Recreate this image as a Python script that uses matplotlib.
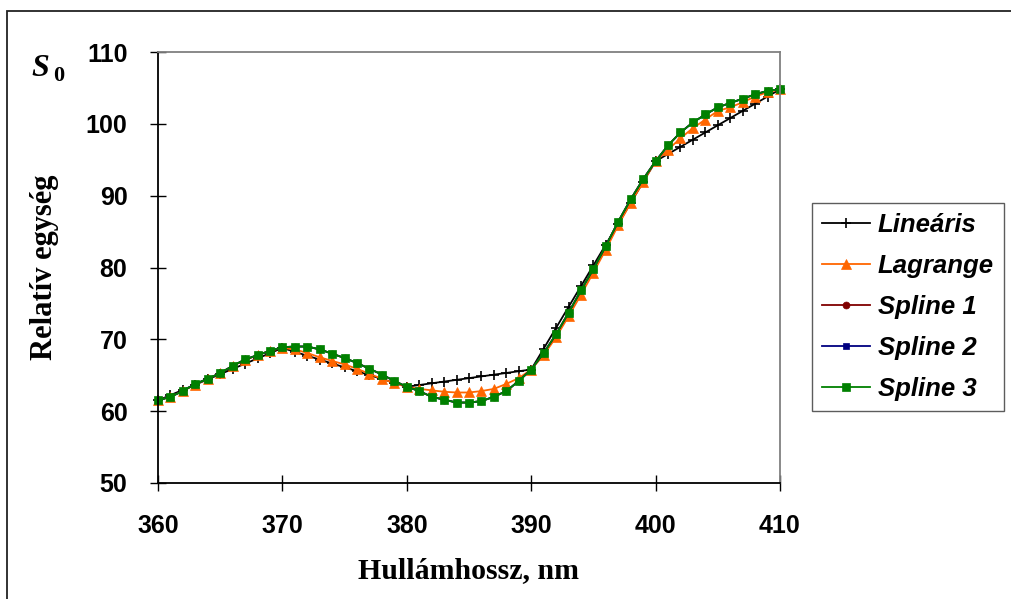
import matplotlib
matplotlib.use("Agg")
import matplotlib.pyplot as plt
from matplotlib.patches import Rectangle

# Wavelengths (nm)
wavelength = list(range(360, 411))

# Linear interpolation
linearis = [61.5, 62.23, 62.96, 63.69, 64.42, 65.15, 65.88, 66.61, 67.34, 68.07,
            68.8, 68.26, 67.72, 67.18, 66.64, 66.1, 65.56, 65.02, 64.48, 63.94,
            63.4, 63.64, 63.88, 64.12, 64.36, 64.6, 64.84, 65.08, 65.32, 65.56,
            65.8, 68.7, 71.6, 74.5, 77.4, 80.3, 83.2, 86.1, 89.0, 91.9,
            94.8, 95.8, 96.8, 97.8, 98.8, 99.8, 100.8, 101.8, 102.8, 103.8,
            104.8]

# Lagrange interpolation
lagrange = [61.5, 62.0, 62.8, 63.7, 64.5, 65.3, 66.3, 67.1, 67.8, 68.4,
            68.8, 68.6, 68.1, 67.5, 67.0, 66.5, 65.9, 65.2, 64.5, 63.9,
            63.4, 63.1, 62.9, 62.7, 62.6, 62.6, 62.8, 63.1, 63.8, 64.6,
            65.8, 67.8, 70.3, 73.2, 76.2, 79.3, 82.5, 85.9, 89.0, 91.9,
            94.8, 96.4, 98.0, 99.4, 100.6, 101.8, 102.3, 103.0, 103.8, 104.4,
            104.8]

# Spline interpolations
spline_1 = [61.5, 62.0, 62.8, 63.8, 64.5, 65.3, 66.3, 67.2, 67.8, 68.4,
            68.9, 69.0, 69.0, 68.6, 68.0, 67.4, 66.7, 65.9, 65.1, 64.2,
            63.4, 62.8, 62.0, 61.6, 61.2, 61.2, 61.4, 62.0, 62.8, 64.2,
            65.8, 68.1, 70.7, 73.7, 76.8, 79.8, 83.0, 86.4, 89.5, 92.3,
            94.8, 97.0, 98.8, 100.2, 101.3, 102.3, 102.9, 103.5, 104.1, 104.6,
            104.8]
spline_2 = list(spline_1)
spline_3 = list(spline_1)

series = [
    ("Lineáris", linearis, "#000000", "+", 7.5),
    ("Lagrange", lagrange, "#FF6600", "^", 7),
    ("Spline 1", spline_1, "#800000", "o", 5),
    ("Spline 2", spline_2, "#000080", "s", 5),
    ("Spline 3", spline_3, "#008000", "s", 5.5),
]

W, H = 1011, 599
fig = plt.figure(figsize=(W / 100, H / 100), dpi=100)
fig.patch.set_facecolor("white")

# Outer chart frame
fig.patches.append(Rectangle((7 / W, -0.1), 1.2, (H - 11) / H + 0.1,
                             transform=fig.transFigure, fill=False,
                             edgecolor="#222222", linewidth=1.3))

ax = fig.add_axes([158 / W, (H - 483) / H, (780 - 158) / W, (483 - 52) / H])

for name, vals, color, marker, ms in series:
    ax.plot(wavelength, vals, color=color, marker=marker, markersize=ms,
            linewidth=1.3, markeredgewidth=1.2 if marker == "+" else 0.5,
            markeredgecolor=color, label=name, clip_on=False)

ax.set_xlim(360, 410)
ax.set_ylim(50, 110)
ax.set_xticks(range(360, 411, 10))
ax.set_yticks(range(50, 111, 10))

tick_font = {"family": "Liberation Sans", "weight": "bold", "size": 18}
ax.set_xticklabels([str(v) for v in range(360, 411, 10)], fontdict=tick_font)
ax.set_yticklabels([str(v) for v in range(50, 111, 10)], fontdict=tick_font)
ax.tick_params(axis="both", direction="inout", length=12, width=1.0,
               color="#000000")
ax.tick_params(axis="x", pad=16)
ax.tick_params(axis="y", pad=16)

ax.spines["left"].set_color("#000000")
ax.spines["bottom"].set_color("#000000")
ax.spines["top"].set_color("#808080")
ax.spines["right"].set_color("#808080")
for s in ax.spines.values():
    s.set_linewidth(1.3)

ax.set_xlabel("Hullámhossz, nm", family="Liberation Serif", weight="bold",
              size=21.5, labelpad=14)
ax.set_ylabel("Relatív egység", family="Liberation Serif", weight="bold",
              size=22, labelpad=19)

fig.text(31 / W, 1 - 68 / H, "S", family="Liberation Serif", weight="bold",
         style="italic", size=23, va="center", ha="left")
fig.text(53 / W, 1 - 76 / H, "0", family="Liberation Serif", weight="bold",
         size=16, va="center", ha="left")

leg = fig.legend(loc="upper left", bbox_to_anchor=(812 / W, 1 - 203 / H),
                 bbox_transform=fig.transFigure, frameon=True, fancybox=False,
                 prop={"family": "Liberation Sans", "weight": "bold",
                       "style": "italic", "size": 18.5},
                 handlelength=1.85, handletextpad=0.3, labelspacing=0.66,
                 borderpad=0.4, borderaxespad=0)
leg.get_frame().set_edgecolor("#333333")
leg.get_frame().set_linewidth(1.0)

fig.savefig("out.png", dpi=100)
